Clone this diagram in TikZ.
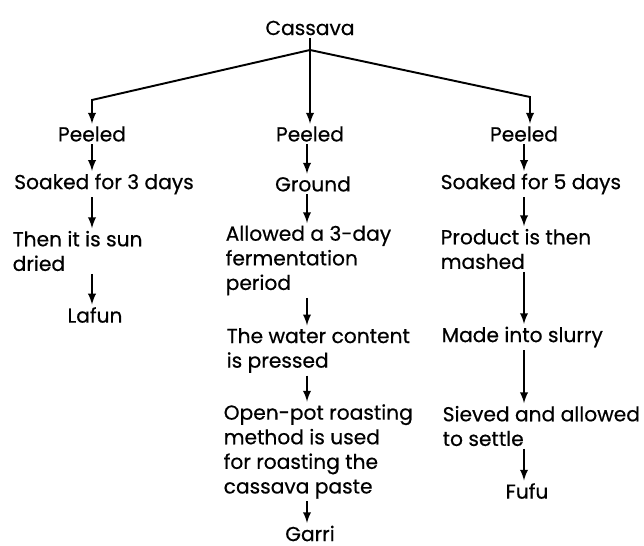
\documentclass[tikz,border=0pt]{standalone}
\usepackage{fontspec}
\setsansfont{Poppins}[FakeBold=0.5]
\begin{document}
\begin{tikzpicture}[font=\sffamily\fontsize{11.5pt}{14pt}\selectfont, >=latex, line width=1.1pt, inner sep=1pt]

        \useasboundingbox (0, 0) rectangle (12.88, 10.92);
        \tikzset{
            stepbox/.style={align=left, anchor=west},
            flow/.style={->, shorten >=0pt}
        }

        % --- Radice ---
        \node (cassava) at (6.2, 10.36) {Cassava};
        \coordinate (split) at (6.2, 9.92);
        \coordinate (bendL) at (1.84, 8.92);
        \coordinate (bendR) at (10.6, 8.98);

        % --- Colonne (x delle frecce) ---
        \coordinate (colL) at (1.84, 0);
        \coordinate (colM) at (6.14, 0);
        \coordinate (colR) at (10.48, 0);

        % --- Colonna sinistra (Lafun) ---
        \node (peelL) at (1.84, 8.24) {Peeled};
        \node (soakL) at (2.08, 7.24) {Soaked for 3 days};
        \node[stepbox] (dryL) at (0.2, 5.9) {Then it is sun\\dried};
        \node (lafun) at (1.9, 4.62) {Lafun};

        % --- Colonna centrale (Garri) ---
        \node (peelM) at (6.2, 8.24) {Peeled};
        \node (groundM) at (6.26, 7.24) {Ground};
        \node[stepbox] (fermM) at (4.46, 5.71) {Allowed a 3-day\\fermentation\\period};
        \node[stepbox] (pressM) at (4.48, 3.91) {The water content\\is pressed};
        \node[stepbox] (roastM) at (4.42, 1.89) {Open-pot roasting\\method is used\\for roasting the\\cassava paste};
        \node (garri) at (6.2, 0.25) {Garri};

        % --- Colonna destra (Fufu) ---
        \node (peelR) at (10.48, 8.24) {Peeled};
        \node[stepbox] (soakR) at (8.76, 7.24) {Soaked for 5 days};
        \node[stepbox] (mashR) at (8.76, 5.94) {Product is then\\mashed};
        \node[stepbox] (slurryR) at (8.78, 4.18) {Made into slurry};
        \node[stepbox] (sieveR) at (8.8, 2.4) {Sieved and allowed\\to settle};
        \node (fufu) at (10.54, 1.1) {Fufu};

        % --- Diramazione ---
        \draw (cassava.south) -- (split);
        \draw[flow] (split) -- (peelM.north -| split);
        \draw[flow] (split) -- (bendL) -- (peelL.north -| bendL);
        \draw[flow] (split) -- (bendR) -- (peelR.north -| bendR);

        % --- Frecce colonna sinistra ---
        \draw[flow] (peelL.south -| colL) -- (soakL.north -| colL);
        \draw[flow] (soakL.south -| colL) -- (dryL.north -| colL);
        \draw[flow] (dryL.south -| colL) -- (lafun.north -| colL);

        % --- Frecce colonna centrale ---
        \draw[flow] (peelM.south -| colM) -- (groundM.north -| colM);
        \draw[flow] (groundM.south -| colM) -- (fermM.north -| colM);
        \draw[flow] (fermM.south -| colM) -- (pressM.north -| colM);
        \draw[flow] (pressM.south -| colM) -- (roastM.north -| colM);
        \draw[flow] (roastM.south -| colM) -- (garri.north -| colM);

        % --- Frecce colonna destra ---
        \draw[flow] (peelR.south -| colR) -- (soakR.north -| colR);
        \draw[flow] (soakR.south -| colR) -- (mashR.north -| colR);
        \draw[flow] (mashR.south -| colR) -- (slurryR.north -| colR);
        \draw[flow] (slurryR.south -| colR) -- (sieveR.north -| colR);
        \draw[flow] (sieveR.south -| colR) -- (fufu.north -| colR);

    \end{tikzpicture}
\end{document}
